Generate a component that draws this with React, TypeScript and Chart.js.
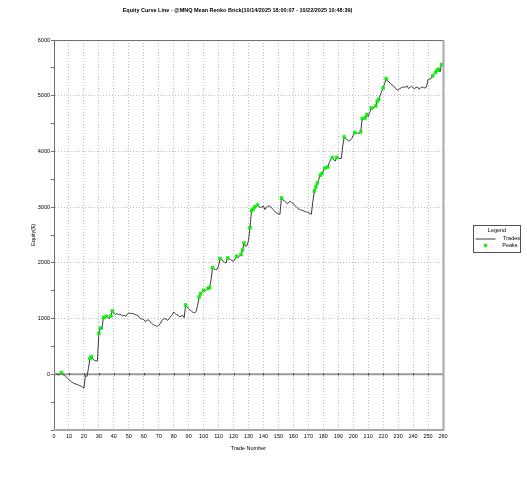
import React, { useEffect, useRef } from 'react';
import { Chart, registerables } from 'chart.js';

Chart.register(...registerables);

const TITLE = 'Equity Curve Line - @MNQ Mean Renko Brick(10/14/2025 18:00:07 - 10/22/2025 10:48:39)';
const X_TITLE = 'Trade Number';
const Y_TITLE = 'Equity($)';
const LEGEND_TITLE = 'Legend';
const SERIES_LINE = 'Trades';
const SERIES_PEAKS = 'Peaks';

const X_MIN = 0;
const X_MAX = 260;
const X_STEP = 10;
const Y_MIN = -1000;
const Y_MAX = 6000;
const Y_STEP = 500;
const Y_LABEL_STEP = 1000;

// equity after trade 1, 2, 3, ...
const equity = [
  0, 5, -10, 10, 30, 0, -20, -40, -70, -100,
  -120, -140, -160, -170, -180, -190, -200, -210, -230, -250,
  -20, -40, 100, 280, 318, 270, 250, 240, 240, 736,
  830, 800, 1018, 1000, 1041, 1020, 1000, 1047, 1137, 1100,
  1077, 1090, 1071, 1080, 1060, 1047, 1060, 1041, 1080, 1100,
  1095, 1090, 1089, 1075, 1065, 1059, 1017, 1000, 990, 982,
  946, 960, 982, 950, 921, 900, 880, 870, 862, 875,
  910, 960, 993, 1000, 985, 969, 1000, 1040, 1070, 1118,
  1090, 1070, 1059, 1029, 1045, 1059, 1017, 1244, 1210, 1179,
  1150, 1131, 1110, 1100, 1131, 1239, 1388, 1449, 1480, 1508,
  1500, 1520, 1544, 1556, 1700, 1915, 1890, 1879, 1885, 1950,
  2077, 2050, 2034, 2010, 1998, 2088, 2075, 2059, 2040, 2028,
  2070, 2118, 2095, 2120, 2148, 2226, 2357, 2300, 2310, 2400,
  2633, 2938, 2962, 3003, 3010, 3039, 3010, 2992, 3005, 3016,
  2956, 3000, 3021, 3016, 3000, 2970, 2940, 2910, 2895, 2880,
  2867, 3165, 3130, 3111, 3085, 3064, 3090, 3105, 3080, 3064,
  3030, 3003, 2980, 2960, 2950, 2940, 2931, 2920, 2910, 2902,
  2885, 2872, 3100, 3290, 3362, 3434, 3500, 3572, 3602, 3650,
  3703, 3700, 3721, 3800, 3860, 3890, 3850, 3829, 3895, 3883,
  3875, 3872, 4100, 4260, 4231, 4210, 4188, 4200, 4231, 4290,
  4339, 4321, 4330, 4325, 4349, 4590, 4570, 4601, 4662, 4620,
  4700, 4780, 4760, 4800, 4816, 4900, 4936, 5000, 5080, 5139,
  5220, 5307, 5260, 5247, 5210, 5190, 5175, 5140, 5110, 5098,
  5128, 5140, 5157, 5150, 5160, 5175, 5128, 5150, 5170, 5140,
  5128, 5150, 5157, 5116, 5140, 5157, 5145, 5139, 5157, 5290,
  5300, 5305, 5354, 5390, 5415, 5457, 5475, 5426, 5559,
];

// trade numbers where a new equity peak was reached
const peakTrades = [
  5, 24, 25, 30, 31, 33, 35, 38, 39, 88, 97, 98, 100, 103, 104, 106, 111, 116,
  122, 125, 126, 127, 131, 132, 133, 134, 136, 152, 174, 175, 176, 178, 179, 181,
  183, 186, 189, 194, 201, 205, 206, 208, 209, 212, 215, 216, 217, 220, 222, 253,
  255, 256, 257, 259,
];

const FONT_FAMILY = '"Liberation Sans", Arial, sans-serif';
const FONT_SIZE = 5.5;
const LINE_COLOR = '#3a3a3a';
const PEAK_COLOR = '#00ff00';
const GRID_COLOR = '#bdbdbd';

const decorPlugin = {
  id: 'decor',
  beforeDatasetsDraw(chart: any) {
    const { ctx, chartArea: a, scales } = chart;
    const x = scales.x;
    const y = scales.y;
    const y0 = y.getPixelForValue(0);
    ctx.save();
    ctx.strokeStyle = '#9a9a9a';
    ctx.lineWidth = 2;
    ctx.beginPath();
    ctx.moveTo(a.left, y0);
    ctx.lineTo(a.right, y0);
    ctx.stroke();
    ctx.strokeStyle = '#303030';
    ctx.lineWidth = 1;
    for (let v = X_MIN + X_STEP; v < X_MAX; v += X_STEP) {
      const px = Math.round(x.getPixelForValue(v)) + 0.5;
      ctx.beginPath();
      ctx.moveTo(px, y0 - 1);
      ctx.lineTo(px, y0 + 1);
      ctx.stroke();
    }
    ctx.restore();
  },
  afterDraw(chart: any) {
    const { ctx, chartArea: a } = chart;
    ctx.save();
    // frame
    ctx.strokeStyle = '#707070';
    ctx.lineWidth = 1;
    ctx.beginPath();
    ctx.moveTo(a.left, a.top + 0.5);
    ctx.lineTo(a.right, a.top + 0.5);
    ctx.stroke();
    ctx.strokeStyle = '#a8a8a8';
    ctx.lineWidth = 2;
    ctx.beginPath();
    ctx.moveTo(a.right + 0.5, a.top);
    ctx.lineTo(a.right + 0.5, a.bottom + 1);
    ctx.moveTo(a.left, a.bottom);
    ctx.lineTo(a.right + 1, a.bottom);
    ctx.stroke();

    // title
    ctx.fillStyle = '#000';
    ctx.font = `bold ${FONT_SIZE}px ${FONT_FAMILY}`;
    ctx.textAlign = 'center';
    ctx.textBaseline = 'middle';
    ctx.fillText(TITLE, 237.5, 10);

    // legend
    const bx = 473.5, by = 225.5, bw = 47, bh = 27;
    ctx.strokeStyle = '#505050';
    ctx.lineWidth = 1;
    ctx.strokeRect(bx, by, bw, bh);
    ctx.font = `${FONT_SIZE}px ${FONT_FAMILY}`;
    ctx.fillText(LEGEND_TITLE, bx + bw / 2, by + 5);
    ctx.strokeStyle = LINE_COLOR;
    ctx.beginPath();
    ctx.moveTo(bx + 2, by + 13.5);
    ctx.lineTo(bx + 22, by + 13.5);
    ctx.stroke();
    ctx.textAlign = 'right';
    ctx.fillText(SERIES_LINE, bx + bw - 0.5, by + 12.5);
    ctx.fillStyle = PEAK_COLOR;
    ctx.fillRect(bx + 10.5, by + 18.5, 3, 3);
    ctx.fillStyle = '#000';
    ctx.fillText(SERIES_PEAKS, bx + bw - 3, by + 20);
    ctx.restore();
  },
};

export default function App() {
  const ref = useRef<HTMLCanvasElement | null>(null);

  useEffect(() => {
    document.body.style.margin = '0';
    const canvas = ref.current;
    if (!canvas) return;
    const font = { family: FONT_FAMILY, size: FONT_SIZE };
    const linePoints = equity.map((v, i) => ({ x: i + 1, y: v }));
    const peakPoints = peakTrades.map((t) => ({ x: t, y: equity[t - 1] }));
    const chart = new Chart(canvas, {
      type: 'line',
      data: {
        datasets: [
          {
            label: SERIES_PEAKS,
            data: peakPoints,
            showLine: false,
            pointStyle: 'rect',
            pointRadius: 2,
            pointBackgroundColor: PEAK_COLOR,
            pointBorderColor: '#00d800',
            pointBorderWidth: 0.5,
            order: 0,
          },
          {
            label: SERIES_LINE,
            data: linePoints,
            borderColor: LINE_COLOR,
            borderWidth: 1,
            pointRadius: 0,
            tension: 0,
            order: 1,
          },
        ],
      },
      options: {
        responsive: false,
        animation: false,
        parsing: true,
        layout: { padding: { left: 0, right: 84, top: 40, bottom: 0 } },
        plugins: {
          legend: { display: false },
          title: { display: false },
          tooltip: { enabled: false },
        },
        scales: {
          x: {
            type: 'linear',
            min: X_MIN,
            max: X_MAX,
            afterFit(s: any) {
              s.height = 50;
            },
            ticks: {
              stepSize: X_STEP,
              autoSkip: false,
              maxRotation: 0,
              font,
              color: '#000',
              padding: 3,
            },
            grid: {
              color: (c: any) =>
                c.tick && c.tick.value > X_MIN && c.tick.value < X_MAX ? GRID_COLOR : 'rgba(0,0,0,0)',
              drawTicks: false,
              lineWidth: 1,
            },
            border: { display: false, dash: [1, 2] },
            title: {
              display: true,
              text: X_TITLE,
              font,
              color: '#000',
              padding: { top: 0, bottom: 28.7 },
            },
          },
          y: {
            type: 'linear',
            min: Y_MIN,
            max: Y_MAX,
            afterFit(s: any) {
              s.width = 54;
            },
            ticks: {
              stepSize: Y_STEP,
              autoSkip: false,
              font,
              color: '#000',
              padding: 1,
              callback: (v: any) => (v >= 0 && v % Y_LABEL_STEP === 0 ? String(v) : ''),
            },
            grid: {
              color: (c: any) =>
                c.tick && c.tick.value > 0 && c.tick.value < Y_MAX && c.tick.value % Y_LABEL_STEP === 0
                  ? GRID_COLOR
                  : 'rgba(0,0,0,0)',
              tickColor: '#707070',
              tickLength: 3,
              lineWidth: 1,
            },
            border: { display: true, color: '#707070', width: 1, dash: [1, 2] },
            title: {
              display: true,
              text: Y_TITLE,
              font,
              color: '#000',
              padding: { top: 29.7, bottom: 0 },
            },
          },
        },
      },
      plugins: [decorPlugin],
    } as any);
    return () => chart.destroy();
  }, []);

  return <canvas ref={ref} width={527} height={480} style={{ display: 'block' }} />;
}
